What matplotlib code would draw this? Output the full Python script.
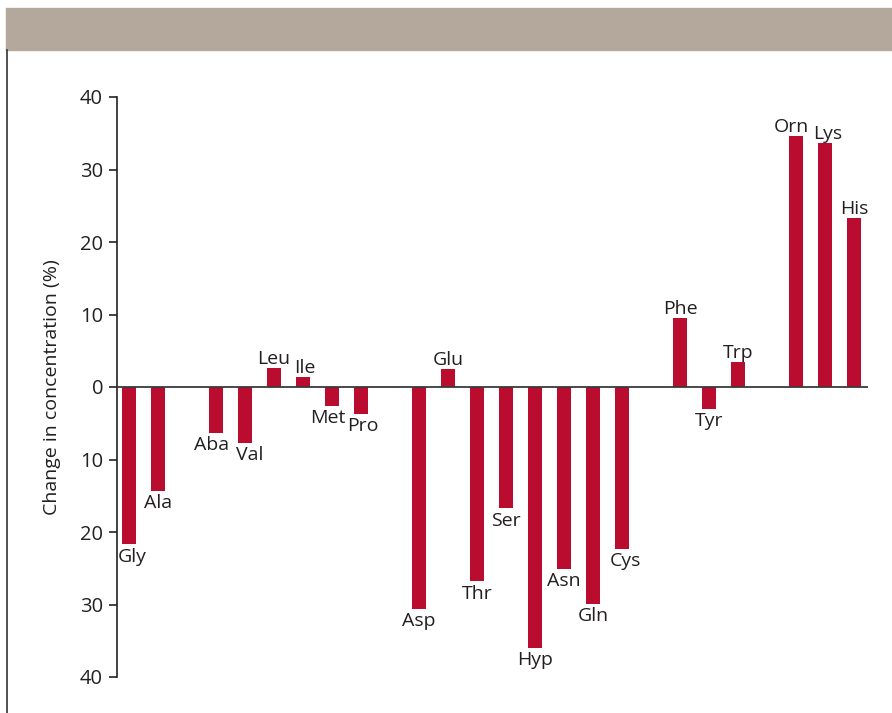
import matplotlib.pyplot as plt
from matplotlib.patches import Rectangle
from matplotlib.lines import Line2D

plt.rcParams['font.family'] = ['Open Sans', 'DejaVu Sans']

# amino acids, slot position on the x axis and change in concentration (%)
names = ['Gly', 'Ala', 'Aba', 'Val', 'Leu', 'Ile', 'Met', 'Pro',
         'Asp', 'Glu', 'Thr', 'Ser', 'Hyp', 'Asn', 'Gln', 'Cys',
         'Phe', 'Tyr', 'Trp', 'Orn', 'Lys', 'His']
slots = [0, 1, 3, 4, 5, 6, 7, 8,
         10, 11, 12, 13, 14, 15, 16, 17,
         19, 20, 21, 23, 24, 25]
values = [-21.7, -14.3, -6.3, -7.7, 2.6, 1.4, -2.6, -3.7,
          -30.6, 2.5, -26.8, -16.7, -36.0, -25.1, -29.9, -22.3,
          9.5, -3.0, 3.4, 34.6, 33.7, 23.3]
# small horizontal nudges of the labels (in slot units)
label_dx = [0.1, 0, -0.15, 0.15, 0, 0.05, -0.15, 0.05,
            0, 0, 0, 0, 0, 0, 0, 0.1,
            0, 0, 0, -0.15, 0.1, 0]

ytick_vals = [-40, -30, -20, -10, 0, 10, 20, 30, 40]
ytick_text = ['40', '30', '20', '10', '0', '10', '20', '30', '40']

bar_color = '#BA0C2F'
text_color = '#231F20'

fig = plt.figure(figsize=(8.92, 7.13), dpi=100)

# header band and left border of the panel
fig.patches.append(Rectangle((6 / 892, 1 - 50 / 713), 1 - 6 / 892, 42 / 713,
                             transform=fig.transFigure, color='#B3A89B', zorder=0))
fig.lines.append(Line2D([6.5 / 892, 6.5 / 892], [0, 1 - 50 / 713],
                        transform=fig.transFigure, color='#333333', lw=1.2))

ax = fig.add_axes([117 / 892, 36 / 713, 751 / 892, 580 / 713])
ax.bar(slots, values, width=0.47, color=bar_color, zorder=2)
ax.axhline(0, color='#3a3a3a', lw=1.3, zorder=3)

for name, x, v, dx in zip(names, slots, values, label_dx):
    if v >= 0:
        ax.annotate(name, (x + dx, v), xytext=(0, 0), textcoords='offset points',
                    ha='center', va='bottom', fontsize=14, color=text_color)
    else:
        ax.annotate(name, (x + dx, v), xytext=(0, -2.5), textcoords='offset points',
                    ha='center', va='top', fontsize=14, color=text_color)

ax.set_xlim(-0.414, 25.48)
ax.set_ylim(-40, 40)
ax.set_yticks(ytick_vals)
ax.set_yticklabels(ytick_text)
ax.tick_params(axis='y', direction='out', length=6, width=1.2, pad=4,
               labelsize=14.5, colors='#222222')
ax.set_xticks([])
for s in ['top', 'right', 'bottom']:
    ax.spines[s].set_visible(False)
ax.spines['left'].set_linewidth(1.2)
ax.spines['left'].set_color('#222222')
ax.set_ylabel('Change in concentration (%)', fontsize=14, color=text_color, labelpad=14)

plt.savefig('out.png', dpi=100)
